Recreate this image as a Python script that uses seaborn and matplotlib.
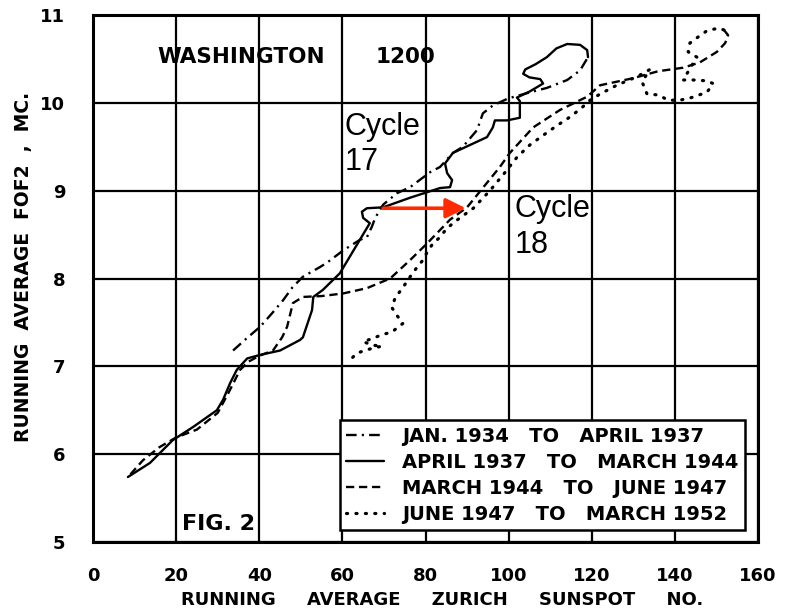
import matplotlib
matplotlib.use("Agg")
import matplotlib.pyplot as plt
import seaborn as sns

# ---------------- data ----------------
dashdot_x = [33.7, 37.0, 40.2, 43.0, 45.7, 48.0, 50.5, 54.6, 56.3, 60.2, 64.2, 65.9, 67.1, 67.9,
             69.8, 73.1, 76.3, 81.1, 83.5, 86.6, 89.0, 92.4, 93.8, 96.2, 99.9, 104.4, 109.2,
             114.1, 117.2, 119.1]
dashdot_y = [7.18, 7.32, 7.45, 7.60, 7.75, 7.90, 8.02, 8.13, 8.18, 8.32, 8.44, 8.47, 8.59, 8.69,
             8.84, 8.97, 9.04, 9.21, 9.27, 9.43, 9.50, 9.69, 9.88, 9.97, 10.05, 10.11, 10.17,
             10.26, 10.37, 10.52]

solid_x = [119.1, 118.9, 117.2, 114.1, 111.5, 109.2, 106.5, 104.0, 103.5, 105.0, 107.6, 108.3,
           105.1, 102.0, 102.7, 102.7, 99.6, 96.7, 96.2, 94.8, 90.7, 86.6, 84.7, 85.2, 86.4,
           85.9, 83.5, 76.3, 69.8, 65.9, 64.7, 65.0, 66.6, 64.2, 59.4, 55.3, 53.0, 52.7, 50.5,
           49.8, 45.0, 40.2, 37.1, 34.6, 33.0, 31.3, 29.8, 24.1, 19.2, 13.7, 8.4]
solid_y = [10.52, 10.60, 10.66, 10.67, 10.62, 10.52, 10.44, 10.38, 10.33, 10.29, 10.27, 10.22,
           10.13, 10.06, 10.02, 9.83, 9.80, 9.80, 9.72, 9.61, 9.52, 9.43, 9.31, 9.20, 9.12,
           9.04, 9.03, 8.92, 8.81, 8.80, 8.76, 8.69, 8.63, 8.44, 8.06, 7.87, 7.79, 7.64, 7.33,
           7.30, 7.18, 7.13, 7.09, 6.96, 6.81, 6.62, 6.50, 6.31, 6.16, 5.90, 5.74]

dashed_x = [9.0, 12.0, 16.0, 20.0, 25.0, 30.0, 32.5, 35.4, 37.3, 40.0, 43.3, 45.5, 46.7, 48.1,
            50.5, 55.0, 60.2, 65.9, 71.5, 76.3, 80.4, 85.9, 90.0, 94.8, 97.9, 100.3, 105.9,
            112.4, 118.9, 122.0, 129.9, 136.0, 142.0, 146.0, 150.1, 152.1, 152.8, 151.8]
dashed_y = [5.77, 5.93, 6.08, 6.19, 6.28, 6.47, 6.69, 6.96, 7.05, 7.12, 7.18, 7.33, 7.45, 7.72,
            7.79, 7.80, 7.83, 7.89, 8.00, 8.21, 8.40, 8.67, 8.81, 9.09, 9.27, 9.43, 9.72,
            9.92, 10.07, 10.20, 10.28, 10.36, 10.40, 10.46, 10.58, 10.68, 10.77, 10.83]

dotted_x = [151.8, 150.4, 147.7, 145.6, 143.6, 143.2, 145.3, 143.5, 142.0, 144.8, 147.7, 149.2,
            148.5, 147.7, 144.0, 141.2, 138.4, 136.0, 133.3, 132.1, 134.0, 131.0, 126.0, 122.0,
            119.6, 117.5, 114.8, 111.6, 108.3, 105.1, 102.0, 99.0, 95.5, 91.5, 88.0, 85.1,
            83.5, 81.8, 80.4, 79.4, 78.0, 76.3, 74.6, 72.7, 71.9, 73.1, 74.6, 71.9, 69.5, 67.4,
            65.0, 67.4, 69.5, 66.0, 63.5, 61.8]
dotted_y = [10.83, 10.85, 10.82, 10.75, 10.68, 10.58, 10.52, 10.38, 10.26, 10.26, 10.25, 10.22,
            10.17, 10.12, 10.06, 10.03, 10.03, 10.09, 10.10, 10.24, 10.38, 10.30, 10.20, 10.10,
            10.03, 9.94, 9.84, 9.74, 9.63, 9.52, 9.38, 9.20, 9.00, 8.80, 8.68, 8.57,
            8.47, 8.40, 8.30, 8.21, 8.13, 8.02, 7.90, 7.78, 7.67, 7.58, 7.49, 7.39, 7.36, 7.32,
            7.28, 7.24, 7.23, 7.19, 7.15, 7.07]

series_labels = ["JAN. 1934   TO   APRIL 1937",
                 "APRIL 1937   TO   MARCH 1944",
                 "MARCH 1944   TO   JUNE 1947",
                 "JUNE 1947   TO   MARCH 1952"]

x_ticks = [0, 20, 40, 60, 80, 100, 120, 140, 160]
y_ticks = [5, 6, 7, 8, 9, 10, 11]

arrow_x = [69.8, 89.7]
arrow_y = [8.80, 8.80]

# ---------------- figure ----------------
sns.set_style("white")
plt.rcParams["font.family"] = ["DejaVu Sans"]
plt.rcParams.update({"text.color": "black", "axes.labelcolor": "black",
                     "xtick.color": "black", "ytick.color": "black"})

W, H = 790, 611
fig = plt.figure(figsize=(W / 100, H / 100), dpi=100)
L, R, T, B = 93, 758, 15, 542
ax = fig.add_axes([L / W, 1 - B / H, (R - L) / W, (B - T) / H])

lw = 1.7
sns.lineplot(x=dashdot_x, y=dashdot_y, sort=False, estimator=None, color="black", lw=lw,
             linestyle=(0, (4.5, 2.2, 0.9, 2.2)), label=series_labels[0], ax=ax)
sns.lineplot(x=solid_x, y=solid_y, sort=False, estimator=None, color="black", lw=lw,
             linestyle="-", label=series_labels[1], ax=ax)
sns.lineplot(x=dashed_x, y=dashed_y, sort=False, estimator=None, color="black", lw=lw,
             linestyle=(0, (3.5, 2.0)), label=series_labels[2], ax=ax)
sns.lineplot(x=dotted_x, y=dotted_y, sort=False, estimator=None, color="black", lw=2.3,
             linestyle=(0, (0.35, 2.6)), dash_capstyle="round", label=series_labels[3], ax=ax)

ax.set_xlim(0, 160)
ax.set_ylim(5, 11)
ax.set_xticks(x_ticks)
ax.set_yticks(y_ticks)
ax.set_xticklabels([str(v) for v in x_ticks])
ax.set_yticklabels([str(v) for v in y_ticks])
ax.grid(True, color="black", lw=1.6)
ax.set_axisbelow(True)
for s in ax.spines.values():
    s.set_color("black")
    s.set_linewidth(2.2)
ax.tick_params(axis="both", length=0, labelsize=13, labelcolor="black")
ax.tick_params(axis="x", pad=18)
ax.tick_params(axis="y", pad=20)
for lab in ax.get_xticklabels() + ax.get_yticklabels():
    lab.set_fontweight("bold")

ax.set_xlabel("RUNNING     AVERAGE     ZURICH     SUNSPOT     NO.", fontsize=13,
              fontweight="bold", color="black")
ax.xaxis.set_label_coords((442 - L) / (R - L), -(591 - B) / (B - T))
ax.set_ylabel("RUNNING  AVERAGE  FOF2  ,  MC.", fontsize=13.5, fontweight="bold", color="black")
ax.yaxis.set_label_coords(-(L - 33) / (R - L), (B - 267) / (B - T))

# in-plot texts
ax.text(15.4, 10.52, "WASHINGTON", fontsize=15.5, fontweight="bold", ha="left", va="center",
        color="black")
ax.text(67.9, 10.52, "1200", fontsize=15.5, fontweight="bold", ha="left", va="center",
        color="black")
ax.text(21.4, 5.21, "FIG. 2", fontsize=16, fontweight="bold", ha="left", va="center",
        color="black")
ax.text(60.6, 9.90, "Cycle\n17", fontsize=22, family=["Liberation Sans", "DejaVu Sans"],
        ha="left", va="top", linespacing=1.25, color="black")
ax.text(101.5, 8.96, "Cycle\n18", fontsize=22, family=["Liberation Sans", "DejaVu Sans"],
        ha="left", va="top", linespacing=1.25, color="black")

ax.annotate("", xy=(arrow_x[1], arrow_y[1]), xytext=(arrow_x[0], arrow_y[0]),
            arrowprops=dict(arrowstyle="-|>,head_length=0.6,head_width=0.3",
                            color="#ff2a00", lw=2.6, mutation_scale=20,
                            shrinkA=0, shrinkB=0))

leg = ax.legend(loc="lower left", bbox_to_anchor=((340 - L) / (R - L), (B - 530) / (B - T)),
                borderaxespad=0, frameon=True, fancybox=False, framealpha=1,
                edgecolor="black", facecolor="white", prop={"weight": "bold", "size": 14},
                handlelength=1.95, handletextpad=0.9, labelspacing=0.36, borderpad=0.33)
leg.get_frame().set_linewidth(1.8)
for t in leg.get_texts():
    t.set_color("black")

fig.savefig("out.png", dpi=100, facecolor="white")
